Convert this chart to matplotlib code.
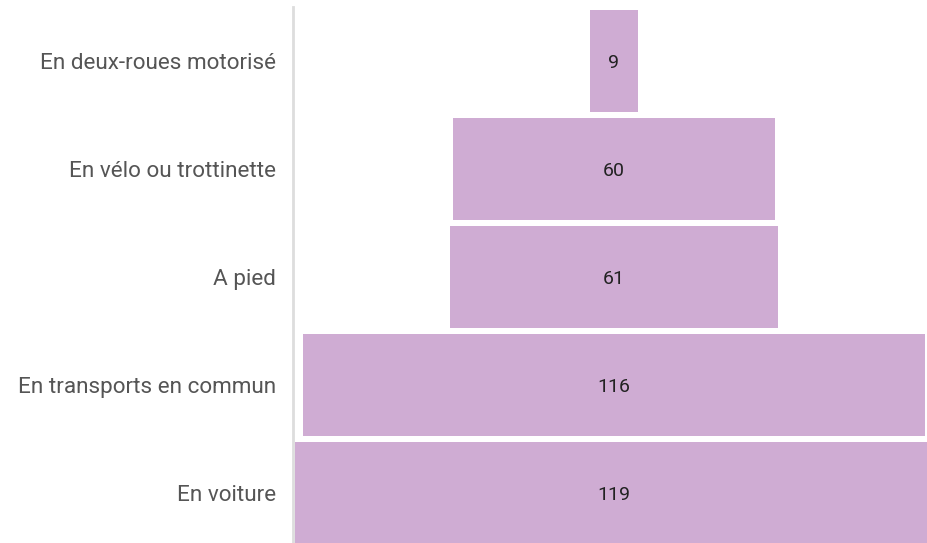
import matplotlib
matplotlib.use("Agg")
import matplotlib.pyplot as plt

plt.rcParams["font.family"] = ["Roboto", "DejaVu Sans"]

categories = ["En deux-roues motorisé", "En vélo ou trottinette", "A pied",
              "En transports en commun", "En voiture"]
values = [9, 60, 61, 116, 119]

BAR = "#CFACD3"

fig = plt.figure(figsize=(9.27, 5.43), dpi=100, facecolor="white")
ax = fig.add_axes([0.316, -0.0074, 0.684, 0.9945])

ypos = list(range(len(categories)))
lefts = [-v / 2 for v in values]
ax.barh(ypos, values, left=lefts, height=0.94, color=BAR, edgecolor="none")

for y, v in zip(ypos, values):
    ax.text(0, y + 0.02, str(v), ha="center", va="center", fontsize=14,
            color="#222222")

ax.set_xlim(-59.8, 58.3)
ax.set_ylim(4.5, -0.5)
ax.set_yticks(ypos)
ax.set_yticklabels(categories, fontsize=16.2, color="#555555")
ax.tick_params(axis="y", length=0, pad=12)
ax.set_xticks([])
for side in ["top", "right", "bottom"]:
    ax.spines[side].set_visible(False)
ax.spines["left"].set_color("#dddddd")
ax.spines["left"].set_linewidth(2)

fig.savefig("out.png", dpi=100, facecolor="white")
